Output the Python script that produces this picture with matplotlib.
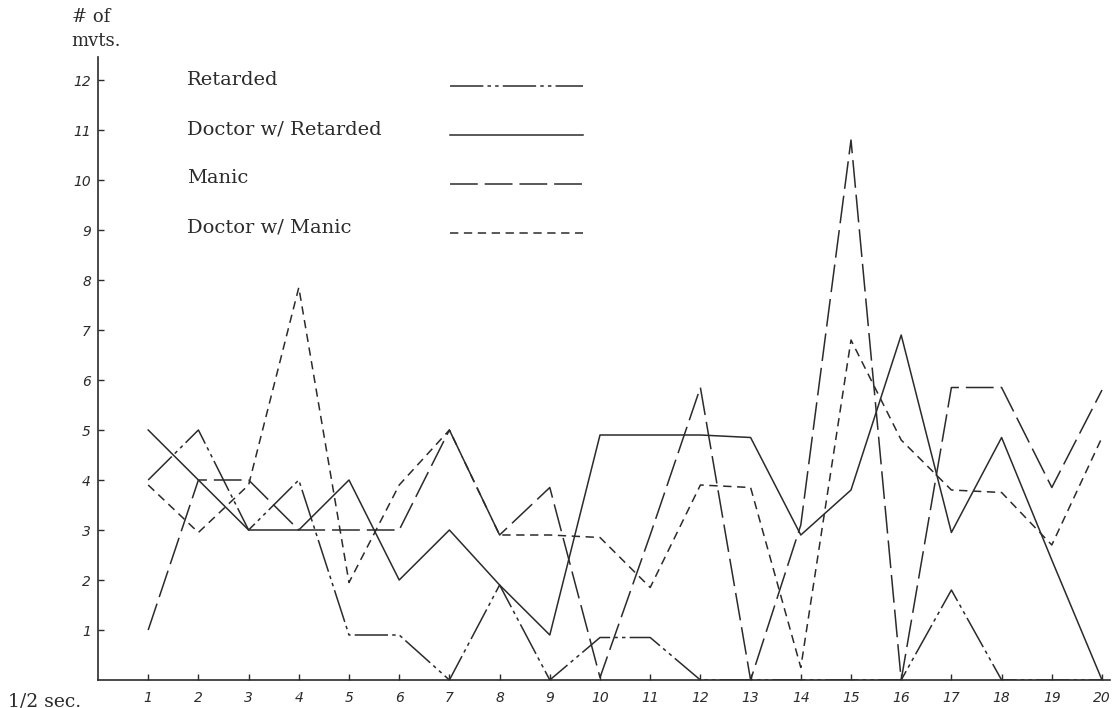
import matplotlib
matplotlib.use("Agg")
import matplotlib.pyplot as plt
from matplotlib.lines import Line2D

plt.rcParams['lines.scale_dashes'] = False

# ---- data ----
intervals = list(range(1, 21))
retarded = [4, 5, 3, 4, 0.9, 0.9, 0, 1.9, 0, 0.85, 0.85, 0, 0, 0, 0, 0, 1.8, 0, 0, 0]
doctor_retarded = [5, 4, 3, 3, 4, 2, 3, 1.9, 0.9, 4.9, 4.9, 4.9, 4.85, 2.9, 3.8, 6.9, 2.95, 4.85, 2.4, 0]
manic = [1, 4, 4, 3, 3, 3, 5, 2.9, 3.85, 0.05, 2.9, 5.85, 0, 3.1, 10.8, 0, 5.85, 5.85, 3.85, 5.8]
doctor_manic = [3.9, 2.95, 3.9, 7.85, 1.95, 3.9, 5, 2.9, 2.9, 2.85, 1.85, 3.9, 3.85, 0.25, 6.8, 4.8, 3.8, 3.75, 2.7, 4.85]
series_names = ["Retarded", "Doctor w/ Retarded", "Manic", "Doctor w/ Manic"]
y_ticks = list(range(1, 13))
x_ticks = intervals

ink = "#2b2b2b"
styles = [
    (0, (24, 3, 2.5, 3, 2.5, 3)),
    "-",
    (0, (20, 5)),
    (0, (6, 4)),
]
all_series = [retarded, doctor_retarded, manic, doctor_manic]

fig = plt.figure(figsize=(11.14, 7.08), dpi=100)
fig.patch.set_facecolor("white")
ax = fig.add_axes([98 / 1114, 28 / 708, 1012 / 1114, 623 / 708])
ax.set_xlim(0, 1012 / 50.2)
ax.set_ylim(0, 623 / 50)

for vals, ls in zip(all_series, styles):
    ax.plot(intervals, vals, color=ink, lw=1.1, linestyle=ls)

for side in ("top", "right"):
    ax.spines[side].set_visible(False)
for side in ("left", "bottom"):
    ax.spines[side].set_color(ink)
    ax.spines[side].set_linewidth(1.2)

ax.set_xticks(x_ticks)
ax.set_yticks(y_ticks)
ax.tick_params(direction="in", length=4, width=1, color=ink, labelcolor=ink)
ax.tick_params(axis="x", pad=8)
ax.tick_params(axis="y", pad=5)
for lab in ax.get_xticklabels() + ax.get_yticklabels():
    lab.set_fontstyle("italic")
    lab.set_fontsize(10)

serif = ["DejaVu Serif"]
fig.text(72 / 1114, 1 - 17 / 708, "# of", family=serif, fontsize=13, color=ink, va="center", ha="left")
fig.text(71 / 1114, 1 - 41 / 708, "mvts.", family=serif, fontsize=13, color=ink, va="center", ha="left")
fig.text(8 / 1114, 1 - 701 / 708, "1/2 sec.", family=serif, fontsize=13.5, color=ink, va="center", ha="left")

# legend: labels on the left, line samples on the right
legend_y = [84, 133, 182, 231]
for name, ls, ly in zip(series_names, styles, legend_y):
    fig.text(187 / 1114, 1 - (ly - 4) / 708, name, family=serif, fontsize=14,
             color=ink, va="center", ha="left")
    fig.add_artist(Line2D([450 / 1114, 583 / 1114], [1 - (ly + 2) / 708] * 2,
                          transform=fig.transFigure, color=ink, lw=1.1, linestyle=ls))

fig.savefig("out.png", dpi=100, facecolor="white")
